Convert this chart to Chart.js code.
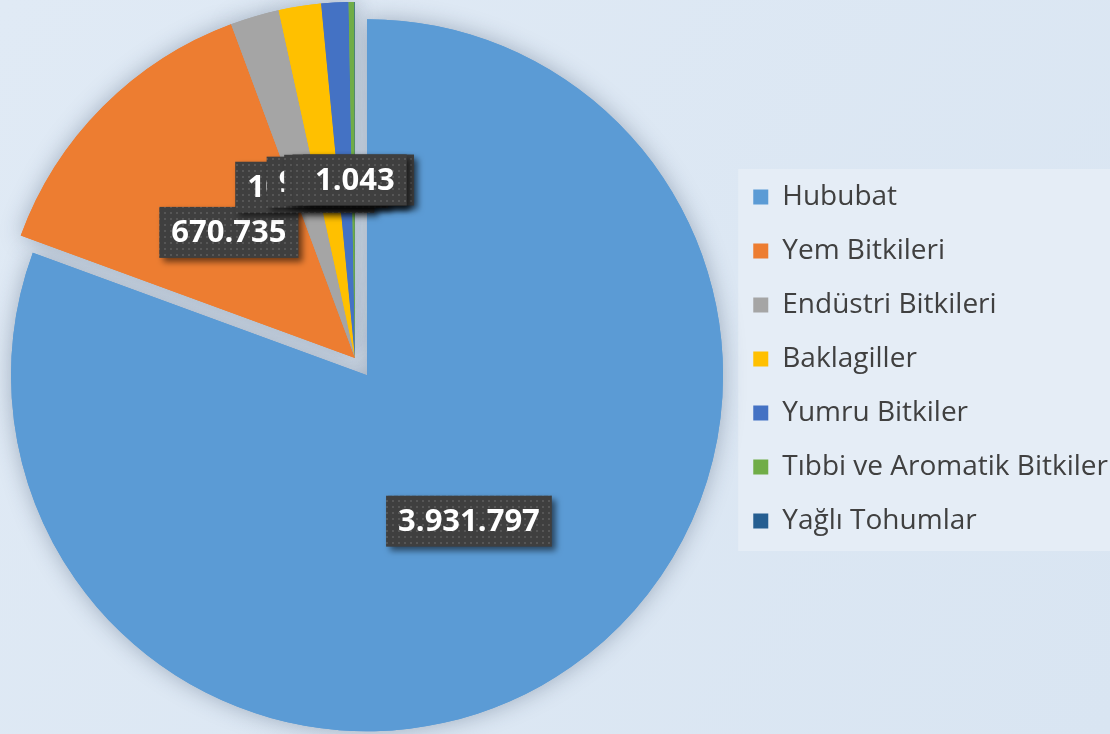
<!DOCTYPE html>
<html lang="tr">
<head>
<meta charset="utf-8">
<title>Ekim alanları</title>
<script src="https://cdn.jsdelivr.net/npm/chart.js@4.4.1/dist/chart.umd.min.js"></script>
<style>
  html, body { margin: 0; padding: 0; background: #dde8f4; }
  #wrap { width: 1110px; height: 734px; position: relative; }
</style>
</head>
<body>
<div id="wrap"><canvas id="pieChart"></canvas></div>
<script>
// === Data ===
const categories = ['Hububat', 'Yem Bitkileri', 'Endüstri Bitkileri', 'Baklagiller', 'Yumru Bitkiler', 'Tıbbi ve Aromatik Bitkiler', 'Yağlı Tohumlar'];
const values = [3931797, 670735, 108000, 94000, 60000, 13000, 1043];
const colors = ['#5B9BD5', '#ED7D31', '#A5A5A5', '#FFC000', '#4472C4', '#70AD47', '#255E91'];
// pulled-out distance of each slice, px
const explode = [21, 0, 0, 0, 0, 0, 0];

// pie centre / radius in the picture
const PIE_X = 355, PIE_Y = 358, PIE_R = 356;

function fmt(n) {
  return String(n).replace(/\B(?=(\d{3})+(?!\d))/g, '.');
}

// dotted dark fill for the value boxes
function makePattern(ctx) {
  const c = document.createElement('canvas');
  c.width = 6; c.height = 6;
  const p = c.getContext('2d');
  p.fillStyle = '#3f3f3f';
  p.fillRect(0, 0, 6, 6);
  p.fillStyle = '#565656';
  p.fillRect(2, 2, 2, 2);
  return ctx.createPattern(c, 'repeat');
}

// draw one arc moved out along its bisector (Chart.js' own offset also grows the radius)
function drawExploded(ctx, arc, i) {
  const mid = (arc.startAngle + arc.endAngle) / 2;
  const saved = arc.options;
  ctx.save();
  ctx.translate(Math.cos(mid) * explode[i], Math.sin(mid) * explode[i]);
  arc.options = Object.assign({}, saved, { offset: 0 });
  arc.draw(ctx);
  arc.options = saved;
  ctx.restore();
}

// === Place the pie where the original sits ===
const pieArea = {
  id: 'pieArea',
  afterLayout(chart) {
    const a = chart.chartArea;
    a.left = PIE_X - PIE_R - 10;
    a.right = PIE_X + PIE_R + 10;
    a.top = PIE_Y - PIE_R - 10;
    a.bottom = PIE_Y + PIE_R + 10;
    a.width = a.right - a.left;
    a.height = a.bottom - a.top;
  }
};

// === Background + legend panel ===
const bgPlugin = {
  id: 'bg',
  beforeDraw(chart) {
    const { ctx, width, height, legend } = chart;
    ctx.save();
    const g = ctx.createLinearGradient(0, 0, width, height);
    g.addColorStop(0, '#e0eaf5');
    g.addColorStop(1, '#d9e5f2');
    ctx.fillStyle = g;
    ctx.fillRect(0, 0, width, height);
    const hb = legend && legend.legendHitBoxes;
    if (hb && hb.length) {
      const first = hb[0], last = hb[hb.length - 1];
      const top = first.top - 14;
      const bottom = last.top + last.height + 16;
      ctx.fillStyle = '#e5edf6';
      ctx.fillRect(first.left - 15, top, width - first.left + 15, bottom - top);
    }
    ctx.restore();
  }
};

// === Pie: shadow first, then slices ===
const piePlugin = {
  id: 'pieDraw',
  beforeDatasetDraw(chart, args) {
    const { ctx } = chart;
    const meta = args.meta;
    ctx.save();
    ctx.shadowColor = 'rgba(40, 60, 90, 0.35)';
    ctx.shadowBlur = 22;
    meta.data.forEach((arc, i) => drawExploded(ctx, arc, i));
    ctx.restore();
    meta.data.forEach((arc, i) => drawExploded(ctx, arc, i));
    return false;
  }
};

// === Value boxes ===
const valueLabels = {
  id: 'valueLabels',
  afterDatasetsDraw(chart) {
    const { ctx } = chart;
    const meta = chart.getDatasetMeta(0);
    const pattern = makePattern(ctx);
    ctx.save();
    ctx.font = 'bold 31px "Open Sans"';
    ctx.textAlign = 'center';
    ctx.textBaseline = 'middle';
    meta.data.forEach((arc, i) => {
      const { x, y, startAngle, endAngle, outerRadius } = arc.getProps(['x', 'y', 'startAngle', 'endAngle', 'outerRadius'], true);
      const mid = (startAngle + endAngle) / 2;
      const d = explode[i] + outerRadius * 0.5;
      const cx = x + Math.cos(mid) * d;
      const cy = y + Math.sin(mid) * d;
      const text = fmt(values[i]);
      const w = ctx.measureText(text).width + 24;
      const h = 51;
      ctx.save();
      ctx.shadowColor = 'rgba(0, 0, 0, 0.55)';
      ctx.shadowBlur = 6;
      ctx.shadowOffsetX = 4;
      ctx.shadowOffsetY = 4;
      ctx.fillStyle = pattern;
      ctx.fillRect(cx - w / 2, cy - h / 2, w, h);
      ctx.restore();
      ctx.fillStyle = '#ffffff';
      ctx.fillText(text, cx, cy + 1);
    });
    ctx.restore();
  }
};

const ctx = document.getElementById('pieChart').getContext('2d');
new Chart(ctx, {
  type: 'pie',
  data: {
    labels: categories,
    datasets: [{
      data: values,
      backgroundColor: colors,
      borderWidth: 0,
      radius: PIE_R
    }]
  },
  options: {
    responsive: true,
    maintainAspectRatio: false,
    animation: false,
    layout: { padding: { left: 0, top: 0, bottom: 16, right: -8 } },
    plugins: {
      tooltip: { enabled: false },
      legend: {
        position: 'right',
        align: 'center',
        labels: {
          boxWidth: 15,
          boxHeight: 15,
          padding: 26,
          color: '#404040',
          font: { family: 'Open Sans', size: 28 }
        }
      }
    }
  },
  plugins: [pieArea, bgPlugin, piePlugin, valueLabels]
});
</script>
</body>
</html>
